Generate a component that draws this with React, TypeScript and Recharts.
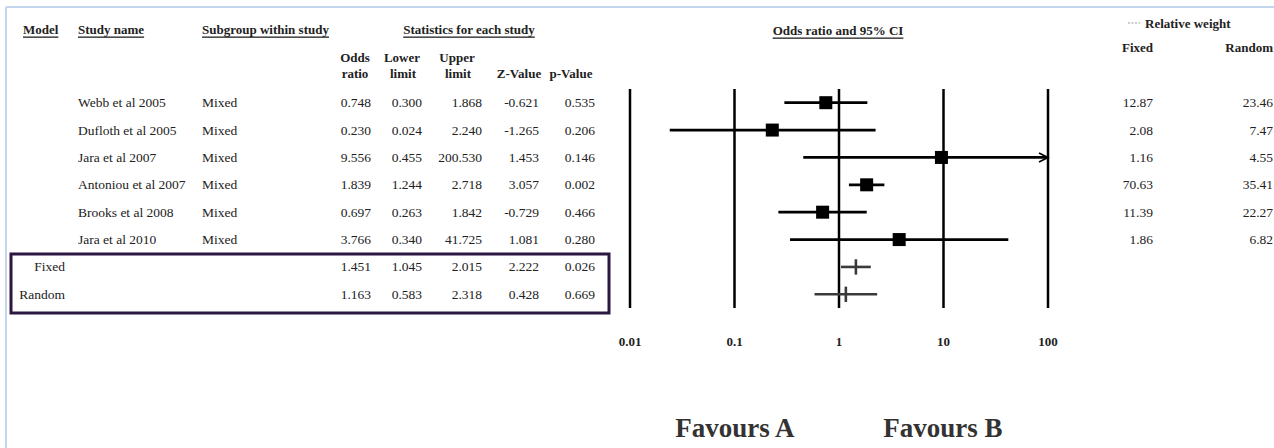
import React from 'react';
import { ComposedChart, XAxis, YAxis, Scatter, ReferenceLine } from 'recharts';

// ---------- data ----------
const studyNames = ['Webb et al 2005', 'Dufloth et al 2005', 'Jara et al 2007', 'Antoniou et al 2007', 'Brooks et al 2008', 'Jara et al 2010'];
const subgroups = ['Mixed', 'Mixed', 'Mixed', 'Mixed', 'Mixed', 'Mixed'];
const oddsRatio = [0.748, 0.23, 9.556, 1.839, 0.697, 3.766];
const lowerLimit = [0.3, 0.024, 0.455, 1.244, 0.263, 0.34];
const upperLimit = [1.868, 2.24, 200.53, 2.718, 1.842, 41.725];
const zValue = [-0.621, -1.265, 1.453, 3.057, -0.729, 1.081];
const pValue = [0.535, 0.206, 0.146, 0.002, 0.466, 0.28];
const weightFixed = [12.87, 2.08, 1.16, 70.63, 11.39, 1.86];
const weightRandom = [23.46, 7.47, 4.55, 35.41, 22.27, 6.82];

const modelNames = ['Fixed', 'Random'];
const modelOR = [1.451, 1.163];
const modelLower = [1.045, 0.583];
const modelUpper = [2.015, 2.318];
const modelZ = [2.222, 0.428];
const modelP = [0.026, 0.669];

const xTicks = [0.01, 0.1, 1, 10, 100];
const xDomain: [number, number] = [0.01, 100];

// ---------- styling / layout ----------
const SERIF = '"Liberation Serif", "Times New Roman", serif';
const TEXT = '#222';
const COL = { model: 65, study: 78, sub: 202, or: 371, lo: 422, up: 482, z: 539, p: 595, wf: 1153, wr: 1273 };

const studyRows = studyNames.map((name, i) => ({
  name, sub: subgroups[i], x: oddsRatio[i], y: i,
  lower: lowerLimit[i], upper: upperLimit[i], z: zValue[i], p: pValue[i],
  wf: weightFixed[i], wr: weightRandom[i],
}));
const modelRows = modelNames.map((name, i) => ({
  name, x: modelOR[i], y: studyNames.length + i,
  lower: modelLower[i], upper: modelUpper[i], z: modelZ[i], p: modelP[i],
}));

const f3 = (v: number) => v.toFixed(3);
const f2 = (v: number) => v.toFixed(2);

type Cell = { x: number; text: string; anchor: 'start' | 'end' | 'middle' };

const rowTextShape = (cells: Cell[]) => (p: any) => (
  <g>
    {cells.map((c, k) => (
      <text key={k} x={c.x} y={p.y1} textAnchor={c.anchor} dominantBaseline="central"
        fontFamily={SERIF} fontSize={13.5} fill={TEXT}>{c.text}</text>
    ))}
  </g>
);

const ciShape = (clipped: boolean, color: string, width: number) => (p: any) => (
  <g>
    <line x1={p.x1} y1={p.y1} x2={p.x2} y2={p.y2} stroke={color} strokeWidth={width} />
    {clipped && (
      <polyline points={`${p.x2 - 9},${p.y2 - 4.5} ${p.x2},${p.y2} ${p.x2 - 9},${p.y2 + 4.5}`}
        fill="none" stroke={color} strokeWidth={1.6} />
    )}
  </g>
);

const squareShape = (p: any) => (
  <rect x={p.cx - 6.5} y={p.cy - 6.5} width={13} height={13} fill="#000" />
);

const renderTick = (p: any) => (
  <text x={p.x} y={p.y} dy={33} textAnchor="middle" dominantBaseline="central"
    fontFamily={SERIF} fontWeight="bold" fontSize={13} fill={TEXT}>
    {String(p.payload.value)}
  </text>
);

const hdr = (x: number, y: number, text: string, anchor: 'start' | 'middle' | 'end', underline = false) => (
  <text x={x} y={y} textAnchor={anchor} dominantBaseline="central" fontFamily={SERIF}
    fontWeight="bold" fontSize={13} fill={TEXT}
    style={underline ? { textDecoration: 'underline', textDecorationThickness: '2px', textUnderlineOffset: '2px' } : undefined}>
    {text}
  </text>
);

export default function App() {
  return (
    <div style={{ position: 'absolute', left: 0, top: 0, width: 1274, height: 448, background: '#fff' }}>
      <div style={{ position: 'absolute', left: 0, top: 0 }}>
        <ComposedChart width={1274} height={448} margin={{ top: 89, right: 226, bottom: 100, left: 630 }}>
          <XAxis type="number" dataKey="x" scale="log" domain={xDomain} ticks={xTicks} interval={0}
            allowDataOverflow axisLine={false} tickLine={false} tickSize={0} tickMargin={0} height={40} tick={renderTick} />
          <YAxis type="number" dataKey="y" domain={[-0.5, 7.5]} reversed hide allowDataOverflow />
          {xTicks.map((t) => (
            <ReferenceLine key={'v' + t} x={t} stroke="#000" strokeWidth={2.5} ifOverflow="visible" />
          ))}
          {studyRows.map((r) => (
            <ReferenceLine key={'ci' + r.y} ifOverflow="visible"
              segment={[{ x: r.lower, y: r.y }, { x: Math.min(r.upper, xDomain[1]), y: r.y }]}
              shape={ciShape(r.upper > xDomain[1], '#000', 2.8)} />
          ))}
          {modelRows.map((r) => (
            <ReferenceLine key={'mci' + r.y} ifOverflow="visible"
              segment={[{ x: r.lower, y: r.y }, { x: r.upper, y: r.y }]}
              shape={ciShape(false, '#3a3a3a', 2.6)} />
          ))}
          {modelRows.map((r) => (
            <ReferenceLine key={'mt' + r.y} ifOverflow="visible"
              segment={[{ x: r.x, y: r.y - 0.28 }, { x: r.x, y: r.y + 0.28 }]}
              shape={ciShape(false, '#3a3a3a', 2.6)} />
          ))}
          <Scatter data={studyRows} dataKey="y" shape={squareShape} isAnimationActive={false} />
          {studyRows.map((r) => (
            <ReferenceLine key={'t' + r.y} y={r.y} ifOverflow="visible"
              shape={rowTextShape([
                { x: COL.study, text: r.name, anchor: 'start' },
                { x: COL.sub, text: r.sub, anchor: 'start' },
                { x: COL.or, text: f3(r.x), anchor: 'end' },
                { x: COL.lo, text: f3(r.lower), anchor: 'end' },
                { x: COL.up, text: f3(r.upper), anchor: 'end' },
                { x: COL.z, text: f3(r.z), anchor: 'end' },
                { x: COL.p, text: f3(r.p), anchor: 'end' },
                { x: COL.wf, text: f2(r.wf), anchor: 'end' },
                { x: COL.wr, text: f2(r.wr), anchor: 'end' },
              ])} />
          ))}
          {modelRows.map((r) => (
            <ReferenceLine key={'mt2' + r.y} y={r.y} ifOverflow="visible"
              shape={rowTextShape([
                { x: COL.model, text: r.name, anchor: 'end' },
                { x: COL.or, text: f3(r.x), anchor: 'end' },
                { x: COL.lo, text: f3(r.lower), anchor: 'end' },
                { x: COL.up, text: f3(r.upper), anchor: 'end' },
                { x: COL.z, text: f3(r.z), anchor: 'end' },
                { x: COL.p, text: f3(r.p), anchor: 'end' },
              ])} />
          ))}
        </ComposedChart>
      </div>
      <svg width={1274} height={448} style={{ position: 'absolute', left: 0, top: 0, pointerEvents: 'none' }}>
        <line x1={6} y1={7} x2={1274} y2={7} stroke="#c3d6ee" strokeWidth={2} />
        <line x1={6} y1={7} x2={6} y2={448} stroke="#c3d6ee" strokeWidth={2} />
        {hdr(23, 29, 'Model', 'start', true)}
        {hdr(78, 29, 'Study name', 'start', true)}
        {hdr(202, 29, 'Subgroup within study', 'start', true)}
        {hdr(469, 29, 'Statistics for each study', 'middle', true)}
        {hdr(838, 30, 'Odds ratio and 95% CI', 'middle', true)}
        {hdr(355, 57, 'Odds', 'middle')}
        {hdr(355, 73, 'ratio', 'middle')}
        {hdr(402, 57, 'Lower', 'middle')}
        {hdr(403, 73, 'limit', 'middle')}
        {hdr(457, 57, 'Upper', 'middle')}
        {hdr(458, 73, 'limit', 'middle')}
        {hdr(519, 73, 'Z-Value', 'middle')}
        {hdr(571, 73, 'p-Value', 'middle')}
        <line x1={1128} y1={23} x2={1140} y2={23} stroke="#999" strokeWidth={1} strokeDasharray="2 1.5" />
        {hdr(1145, 23, 'Relative weight', 'start')}
        {hdr(1153, 47, 'Fixed', 'end')}
        {hdr(1273, 47, 'Random', 'end')}
        <rect x={11} y={254} width={598} height={59} fill="none" stroke="#2b1742" strokeWidth={3} />
        <text x={735} y={428} textAnchor="middle" dominantBaseline="central" fontFamily={SERIF}
          fontWeight="bold" fontSize={27} fill="#333">Favours A</text>
        <text x={943} y={428} textAnchor="middle" dominantBaseline="central" fontFamily={SERIF}
          fontWeight="bold" fontSize={27} fill="#333">Favours B</text>
      </svg>
    </div>
  );
}
